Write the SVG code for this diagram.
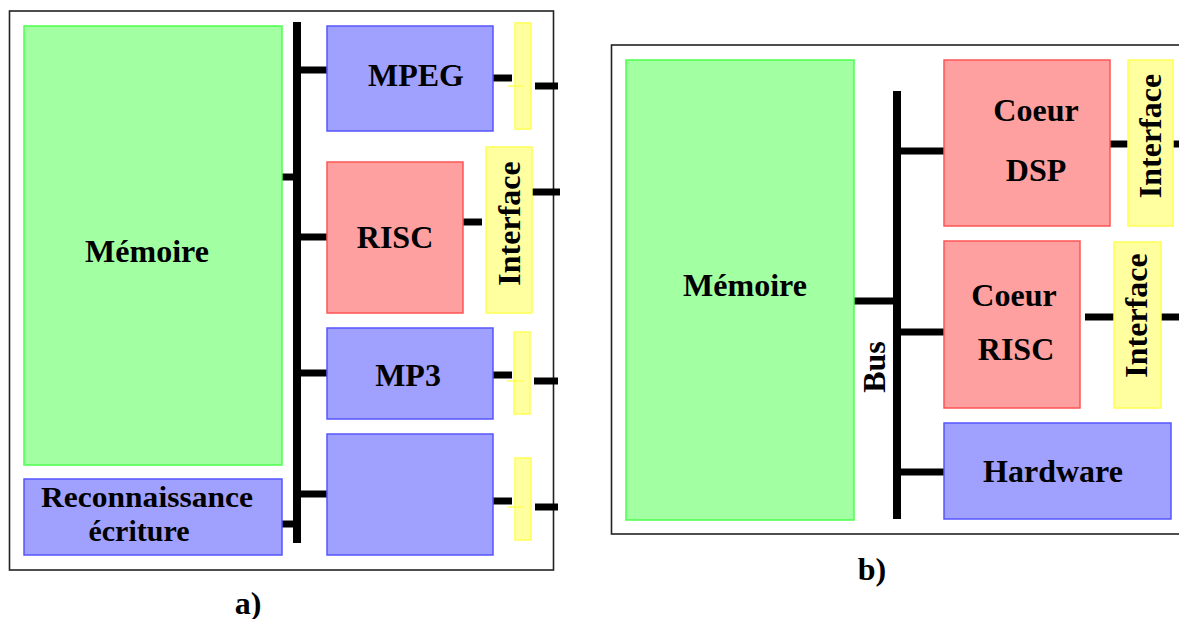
<svg xmlns="http://www.w3.org/2000/svg" width="1179" height="619" viewBox="0 0 1179 619">
<style>
.frame{fill:none;stroke:#222;stroke-width:1.6}
.green{fill:#a2ffa2;stroke:#4cff4c;stroke-width:1.5}
.blue{fill:#a0a0ff;stroke:#5555ff;stroke-width:1.5}
.red{fill:#ffa0a0;stroke:#ff5555;stroke-width:1.5}
.yellow{fill:#ffffa0;stroke:#ffff55;stroke-width:1.5}
.t{font-family:"Liberation Serif","Times New Roman",serif;font-weight:bold;font-size:32px;fill:#000;text-anchor:middle}
.t2{font-family:"Liberation Serif","Times New Roman",serif;font-weight:bold;font-size:30px;fill:#000;text-anchor:middle}
.bus{stroke:#000;stroke-width:8;fill:none}
.stub{stroke:#000;stroke-width:7;fill:none}
.ystub{stroke:#ffff55;stroke-width:1.5;fill:none}
</style>
<rect width="1179" height="619" fill="#fff"/>
<rect class="frame" x="9.5" y="11" width="544" height="559"/>
<rect class="frame" x="611.5" y="45" width="600" height="489"/>
<g id="connectors">
  <line class="bus" x1="297" y1="22" x2="297" y2="543"/>
  <line class="stub" x1="278" y1="177" x2="297" y2="177"/>
  <line class="stub" x1="278" y1="524" x2="297" y2="524"/>
  <line class="stub" x1="297" y1="70" x2="331" y2="70"/>
  <line class="stub" x1="297" y1="237" x2="331" y2="237"/>
  <line class="stub" x1="297" y1="373" x2="331" y2="373"/>
  <line class="stub" x1="297" y1="494" x2="331" y2="494"/>
  <line class="stub" x1="489" y1="78" x2="512" y2="78"/>
  <line class="stub" x1="535" y1="86" x2="558" y2="86"/>
  <line class="stub" x1="459" y1="222" x2="482" y2="222"/>
  <line class="stub" x1="522" y1="192" x2="560" y2="192"/>
  <line class="stub" x1="488" y1="375" x2="512" y2="375"/>
  <line class="stub" x1="534" y1="381" x2="558" y2="381"/>
  <line class="stub" x1="489" y1="501" x2="512" y2="501"/>
  <line class="stub" x1="535" y1="507" x2="558" y2="507"/>
  <line class="bus" x1="897" y1="91" x2="897" y2="519"/>
  <line class="stub" x1="854" y1="301" x2="897" y2="301"/>
  <line class="stub" x1="897" y1="151" x2="944" y2="151"/>
  <line class="stub" x1="897" y1="332" x2="944" y2="332"/>
  <line class="stub" x1="897" y1="472" x2="944" y2="472"/>
  <line class="stub" x1="1110" y1="144" x2="1128" y2="144"/>
  <line class="stub" x1="1172" y1="144" x2="1180" y2="144"/>
  <line class="stub" x1="1085" y1="317" x2="1114" y2="317"/>
  <line class="stub" x1="1161" y1="317" x2="1180" y2="317"/>
  <text class="t" transform="translate(885,367) rotate(-90)">Bus</text>
</g>
<g id="a-memoire"><rect class="green" x="24" y="26" width="258" height="439"/><text class="t" x="147" y="262">Mémoire</text></g>
<g id="a-reco"><rect class="blue" x="24" y="479" width="258" height="76"/><text class="t2" x="147" y="507" textLength="212" lengthAdjust="spacingAndGlyphs">Reconnaissance</text><text class="t2" x="139" y="541">écriture</text></g>
<g id="a-mpeg"><rect class="blue" x="327" y="26" width="166" height="105"/><text class="t" x="416" y="86">MPEG</text></g>
<g id="a-mpeg-if"><rect class="yellow" x="515" y="23" width="16" height="106"/><line class="ystub" x1="508" y1="86" x2="524" y2="86"/></g>
<g id="a-risc"><rect class="red" x="327" y="162" width="136" height="151"/><text class="t" x="395" y="248">RISC</text></g>
<g id="a-risc-if"><rect class="yellow" x="486" y="147" width="46" height="166"/><text class="t" transform="translate(520,223.5) rotate(-90)">Interface</text></g>
<g id="a-mp3"><rect class="blue" x="327" y="328" width="166" height="91"/><text class="t" x="408" y="386">MP3</text></g>
<g id="a-mp3-if"><rect class="yellow" x="514" y="332" width="16" height="82"/><line class="ystub" x1="507" y1="381" x2="523" y2="381"/></g>
<g id="a-blank"><rect class="blue" x="327" y="434" width="166" height="121"/></g>
<g id="a-blank-if"><rect class="yellow" x="515" y="458" width="16" height="82"/><line class="ystub" x1="508" y1="507" x2="524" y2="507"/></g>
<g id="b-memoire"><rect class="green" x="626" y="60" width="228" height="460"/><text class="t" x="745" y="296">Mémoire</text></g>
<g id="b-dsp"><rect class="red" x="944" y="60" width="166" height="166"/><text class="t" x="1036" y="121">Coeur</text><text class="t" x="1036" y="181">DSP</text></g>
<g id="b-dsp-if"><rect class="yellow" x="1128" y="60" width="45" height="166"/><text class="t" transform="translate(1161,136) rotate(-90)">Interface</text></g>
<g id="b-risc"><rect class="red" x="944" y="241" width="136" height="167"/><text class="t" x="1014" y="306">Coeur</text><text class="t" x="1016" y="360">RISC</text></g>
<g id="b-risc-if"><rect class="yellow" x="1114" y="242" width="47" height="166"/><text class="t" transform="translate(1147,315.5) rotate(-90)">Interface</text></g>
<g id="b-hw"><rect class="blue" x="944" y="423" width="227" height="96"/><text class="t" x="1053" y="482">Hardware</text></g>
<text class="t" x="248" y="614">a)</text>
<text class="t" x="872" y="580">b)</text>
</svg>
